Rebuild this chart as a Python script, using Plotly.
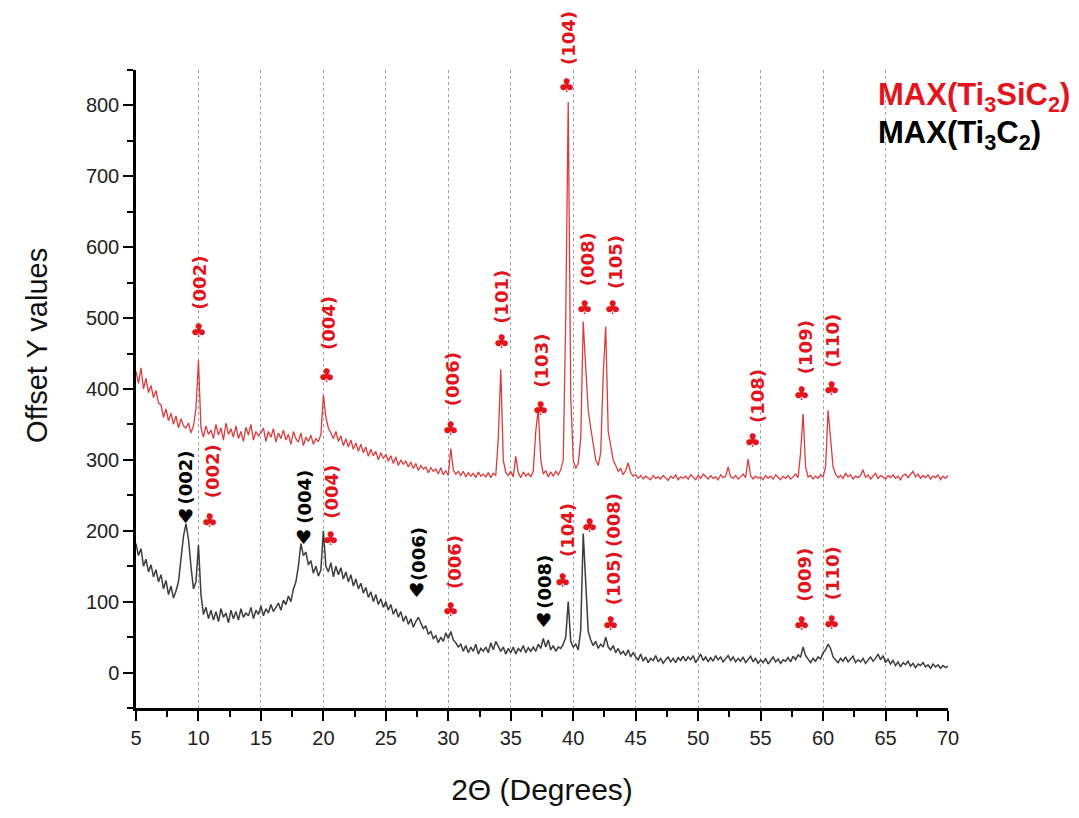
import numpy as np
import plotly.graph_objects as go

# 2-theta sampling grid (degrees)
two_theta = np.round(np.arange(5.0, 70.0001, 0.2), 1)

# MAX (Ti3SiC2) – offset intensities, one row = 2 degrees (10 samples)
ti3sic2 = [
    425, 408, 430, 400, 415, 395, 405, 388, 398, 380,
    378, 360, 372, 355, 366, 350, 362, 345, 358, 348,
    345, 352, 338, 348, 372, 440, 345, 332, 348, 336,
    342, 330, 350, 335, 345, 328, 352, 336, 344, 332,
    348, 330, 340, 326, 346, 335, 350, 328, 340, 334,
    338, 345, 326, 340, 332, 344, 325, 338, 330, 342,
    328, 336, 322, 340, 330, 325, 338, 320, 332, 326,
    335, 322, 330, 326, 336, 392, 360, 345, 338, 330,
    340, 326, 334, 320, 330, 318, 328, 315, 324, 312,
    322, 310, 318, 305, 315, 306, 312, 300, 310, 302,
    308, 298, 306, 295, 304, 292, 300, 294, 298, 290,
    297, 288, 295, 285, 292, 287, 290, 282, 289, 284,
    287, 280, 289, 279, 285, 278, 316, 286, 280, 284,
    278, 284, 276, 282, 277, 281, 275, 283, 277, 280,
    276, 282, 275, 281, 278, 330, 428, 300, 282, 278,
    284, 276, 305, 282, 275, 283, 277, 281, 276, 284,
    340, 372, 300, 280, 285, 276, 283, 277, 284, 279,
    286, 300, 500, 805, 390, 300, 288, 295, 330, 495,
    430, 370, 345, 320, 300, 292, 310, 420, 488, 340,
    318, 300, 292, 284, 288, 279, 285, 296, 282, 277,
    279, 274, 278, 273, 277, 275, 272, 278, 274, 276,
    273, 278, 275, 271, 277, 274, 279, 272, 276, 274,
    277, 273, 279, 275, 272, 278, 274, 280, 276, 273,
    278, 274, 276, 272, 279, 275, 277, 290, 276, 274,
    278, 273, 276, 280, 275, 301, 278, 273, 277, 274,
    276, 272, 278, 274, 277, 273, 279, 275, 272, 277,
    274, 278, 273, 276, 280, 275, 310, 365, 290, 276,
    278, 273, 277, 274, 279, 276, 290, 370, 332, 290,
    280, 275, 278, 274, 281, 276, 279, 273, 277, 275,
    278, 286, 275, 279, 273, 277, 281, 274, 278, 276,
    273, 278, 275, 279, 274, 277, 272, 278, 280, 275,
    279, 284, 276, 280, 274, 278, 275, 279, 273, 277,
    275, 279, 272, 277, 274, 278,
]

# MAX (Ti3C2) – offset intensities
ti3c2 = [
    182, 165, 175, 150, 160, 142, 152, 135, 145, 128,
    138, 118, 130, 110, 122, 105, 115, 128, 160, 192,
    210, 188, 150, 118, 128, 180, 110, 82, 92, 76,
    88, 74, 86, 72, 90, 78, 84, 70, 88, 76,
    86, 74, 90, 78, 84, 80, 92, 76, 88, 82,
    94, 80, 90, 84, 96, 86, 92, 98, 88, 102,
    96, 108, 100, 118, 128, 150, 182, 165, 170, 152,
    158, 140, 150, 136, 145, 200, 150, 142, 155, 135,
    150, 138, 148, 132, 142, 128, 138, 122, 132, 118,
    126, 112, 120, 106, 114, 100, 110, 96, 104, 92,
    100, 88, 96, 82, 90, 78, 86, 72, 80, 68,
    76, 64, 72, 78, 70, 62, 66, 54, 58, 48,
    52, 42, 50, 44, 56, 48, 58, 46, 42, 36,
    40, 30, 38, 28, 36, 30, 40, 26, 34, 30,
    36, 28, 42, 32, 44, 38, 30, 36, 26, 34,
    28, 36, 26, 34, 30, 38, 28, 35, 30, 36,
    30, 40, 34, 48, 36, 46, 32, 38, 30, 36,
    34, 40, 50, 100, 44, 36, 40, 32, 60, 196,
    120, 58, 46, 38, 44, 34, 40, 36, 50, 36,
    32, 38, 28, 34, 26, 30, 24, 32, 22, 28,
    22, 18, 26, 16, 22, 14, 20, 17, 24, 15,
    20, 13, 18, 22, 15, 20, 14, 21, 17, 23,
    16, 22, 18, 24, 14, 20, 26, 17, 22, 15,
    21, 16, 24, 18, 22, 15, 20, 24, 17, 22,
    15, 20, 16, 22, 14, 19, 23, 15, 20, 13,
    18, 14, 20, 12, 17, 22, 15, 19, 13, 18,
    16, 21, 15, 23, 18, 25, 22, 36, 24, 18,
    14, 20, 16, 22, 19, 28, 32, 40, 34, 22,
    18, 14, 20, 16, 22, 15, 19, 23, 14, 18,
    15, 20, 13, 18, 22, 16, 20, 26, 18, 24,
    14, 19, 12, 17, 10, 15, 8, 14, 11, 16,
    9, 13, 7, 12, 10, 14, 8, 11, 6, 12,
    8, 11, 6, 10, 7, 9,
]

# Peak labels: Ti3SiC2 pattern (upper)
top_labels = ["(002)", "(004)", "(006)", "(101)", "(103)", "(104)", "(008)", "(105)", "(108)", "(109)", "(110)"]
top_club_x = [10.04, 20.21, 30.14, 34.22, 37.34, 39.50, 40.94, 43.18, 54.31, 58.31, 60.71]
top_club_y = [483, 420, 345, 468, 373, 829, 516, 516, 328, 394, 401]
top_text_x = [10.12, 20.37, 30.30, 34.30, 37.50, 39.58, 41.10, 43.34, 54.71, 58.55, 60.79]
top_text_y = [550, 493, 414, 530, 440, 895, 583, 579, 390, 459, 468]

# Peak labels: Ti3SiC2 reflections in the Ti3C2 pattern (lower, red)
low_labels = ["(002)", "(004)", "(006)", "(104)", "(008)", "(105)", "(009)", "(110)"]
low_club_x = [10.92, 20.53, 30.14, 39.18, 41.34, 43.02, 58.31, 60.71]
low_club_y = [215, 190, 89, 131, 208, 70, 70, 71]
low_text_x = [11.08, 20.69, 30.54, 39.50, 43.18, 43.18, 58.55, 60.71]
low_text_y = [284, 255, 156, 201, 215, 133, 138, 140]

# Peak labels: Ti3C2 (black, heart)
mx_labels = ["(002)", "(004)", "(006)", "(008)"]
mx_heart_x = [9.00, 18.37, 27.49, 37.58]
mx_heart_y = [221, 191, 117, 74]
mx_text_x = [9.00, 18.53, 27.57, 37.74]
mx_text_y = [275, 248, 167, 128]

Y_RANGE = [-50, 850]
RED = "#e3151c"
RED_LINE = "#dc3b3d"
DARK = "#3d3d3d"

fig = go.Figure()
fig.add_trace(go.Scatter(x=two_theta, y=ti3c2, mode="lines",
                         line=dict(color=DARK, width=1.5), showlegend=False))
fig.add_trace(go.Scatter(x=two_theta, y=ti3sic2, mode="lines",
                         line=dict(color=RED_LINE, width=1.3), showlegend=False))


def place(x, y, text, color, size, angle=0):
    # annotations beyond the y range are positioned through the y-domain scale
    kw = dict(x=x, text=text, showarrow=False, textangle=angle,
              xanchor="center", yanchor="middle",
              font=dict(family="DejaVu Sans", size=size, color=color))
    if Y_RANGE[0] <= y <= Y_RANGE[1]:
        fig.add_annotation(y=y, **kw)
    else:
        fig.add_annotation(yref="y domain", y=(y - Y_RANGE[0]) / (Y_RANGE[1] - Y_RANGE[0]), **kw)


def add_group(labels, sx, sy, tx, ty, sym, color):
    for lab, a, b, c, d in zip(labels, sx, sy, tx, ty):
        place(a, b, sym, color, 19)
        place(c, d, "<b>" + lab + "</b>", color, 18, -90)


add_group(top_labels, top_club_x, top_club_y, top_text_x, top_text_y, "♣", RED)
add_group(low_labels, low_club_x, low_club_y, low_text_x, low_text_y, "♣", RED)
add_group(mx_labels, mx_heart_x, mx_heart_y, mx_text_x, mx_text_y, "♥", "#000000")

fig.add_annotation(xref="paper", yref="paper", x=0.911, y=0.958, xanchor="left", yanchor="middle",
                   text="<b>MAX(Ti<sub>3</sub>SiC<sub>2</sub>)</b>", showarrow=False,
                   font=dict(family="Liberation Sans", size=31, color=RED))
fig.add_annotation(xref="paper", yref="paper", x=0.911, y=0.898, xanchor="left", yanchor="middle",
                   text="<b>MAX(Ti<sub>3</sub>C<sub>2</sub>)</b>", showarrow=False,
                   font=dict(family="Liberation Sans", size=31, color="#000000"))

# y-axis title (sits slightly above the axis middle in the original)
fig.add_annotation(xref="paper", yref="paper", x=-0.122, y=0.569, xanchor="center", yanchor="middle",
                   text="Offset Y values", showarrow=False, textangle=-90,
                   font=dict(family="Liberation Sans", size=29, color="#111111"))

axis_common = dict(showline=True, linecolor="black", linewidth=2.5, ticks="outside",
                   tickwidth=2, ticklen=10, tickcolor="black", zeroline=False,
                   tickfont=dict(family="Liberation Sans", size=20, color="#222222"))

fig.update_xaxes(range=[5, 70], dtick=5, tick0=5, showgrid=True, gridcolor="#a0a0a0",
                 griddash="dot", gridwidth=1,
                 minor=dict(dtick=2.5, ticks="outside", ticklen=6, tickwidth=2,
                            tickcolor="black", showgrid=False),
                 title=dict(text="2Θ (Degrees)", standoff=32,
                            font=dict(family="Liberation Sans", size=30, color="#111111")),
                 **axis_common)
fig.update_yaxes(range=Y_RANGE, dtick=100, tick0=0, showgrid=False,
                 minor=dict(dtick=50, ticks="outside", ticklen=6, tickwidth=2,
                            tickcolor="black", showgrid=False),
                 **axis_common)

# the page body adds an 8 px offset; the figure is sized to fit the window
fig.update_layout(width=1071, height=810, paper_bgcolor="white", plot_bgcolor="white",
                  margin=dict(l=128, r=131, t=62, b=110, autoexpand=False),
                  showlegend=False)

fig.write_html("out.html")
